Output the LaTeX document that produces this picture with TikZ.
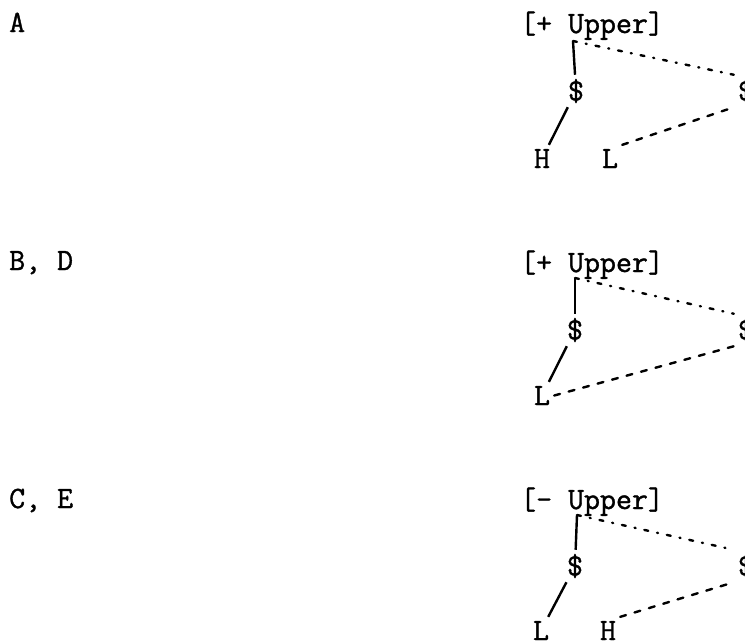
\documentclass[tikz,border=0pt]{standalone}
\usepackage{fontspec}
\usetikzlibrary{positioning}
\newfontfamily\typewr{Latin Modern Mono}[FakeBold=1.2]

\tikzset{
	seg/.style={font=\fontsize{31}{36}\selectfont\typewr, inner sep=4pt},
	tag/.style={seg, anchor=base west, inner sep=0pt},
	assoc/.style={line width=2.4pt},
	dotline/.style={line width=2.4pt, line cap=round, dash pattern=on 4pt off 9pt on 1pt off 9pt},
	dashline/.style={line width=2.4pt, line cap=round, dash pattern=on 6pt off 9pt}
}

\begin{document}
\begin{tikzpicture}[x=1pt, y=-1pt]
	% 画布大小
	\clip (0,0) rectangle (745,643);
	
	% 左侧标签
	\node[tag] (labA) at (9,32) {A};
	\node[tag] (labBD) at (9,270) {B, D};
	\node[tag] (labCE) at (9,508) {C, E};
	
	% 第一组: A
	\node[tag] (top1) at (520,33) {[+ Upper]};
	\coordinate (u1) at (573,41);
	\node[seg] (s1) at (576,91) {\$};
	\node[seg] (s1r) at (746,91) {\$};
	\node[seg, anchor=base] (h1) at (542,168) {H};
	\node[seg, anchor=base] (l1) at (610,168) {L};
	\draw[assoc] (u1) -- (s1);
	\draw[assoc] (s1) -- (h1);
	\draw[dotline] (u1) -- (s1r.north west);
	\draw[dashline] (l1.north east) -- (s1r.south west);
	
	% 第二组: B, D
	\node[tag] (top2) at (520,272) {[+ Upper]};
	\coordinate (u2) at (575,278);
	\node[seg] (s2) at (575,330) {\$};
	\node[seg] (s2r) at (746,330) {\$};
	\node[seg, anchor=base] (l2) at (542,405) {L};
	\draw[assoc] (u2) -- (s2);
	\draw[assoc] (s2) -- (l2);
	\draw[dotline] (u2) -- (s2r.north west);
	\draw[dashline] (l2.east) -- (s2r.south west);
	
	% 第三组: C, E
	\node[tag] (top3) at (520,509) {[- Upper]};
	\coordinate (u3) at (577,515);
	\node[seg] (s3) at (575,566) {\$};
	\node[seg] (s3r) at (746,566) {\$};
	\node[seg, anchor=base] (l3) at (541,640) {L};
	\node[seg, anchor=base] (h3) at (608,640) {H};
	\draw[assoc] (u3) -- (s3);
	\draw[assoc] (s3) -- (l3);
	\draw[dotline] (u3) -- (s3r.north west);
	\draw[dashline] (h3.north east) -- (s3r.south west);
\end{tikzpicture}
\end{document}
